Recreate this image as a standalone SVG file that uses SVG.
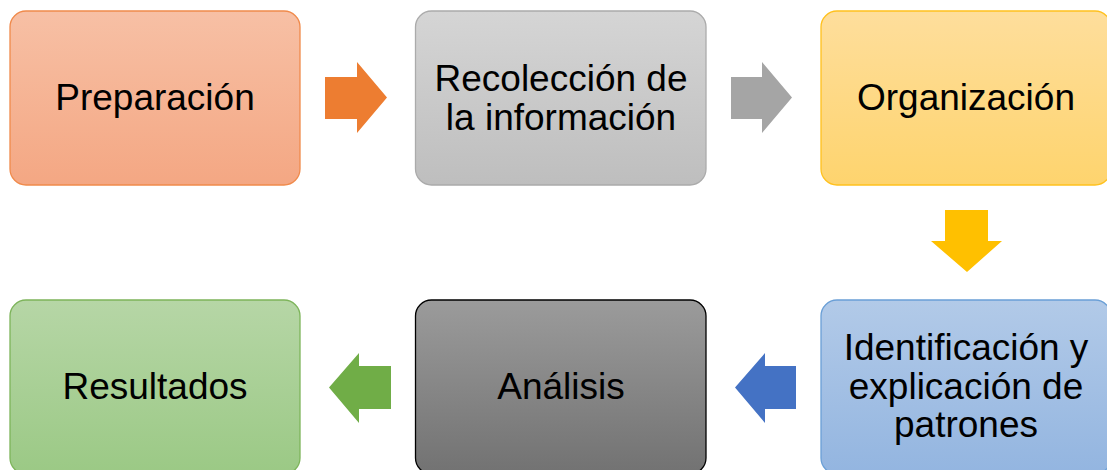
<svg xmlns="http://www.w3.org/2000/svg" width="1107" height="470" viewBox="0 0 1107 470">
<defs>
<linearGradient id="gO" x1="0" y1="0" x2="0" y2="1"><stop offset="0" stop-color="#F7C0A5"/><stop offset="1" stop-color="#F4A783"/></linearGradient>
<linearGradient id="gG" x1="0" y1="0" x2="0" y2="1"><stop offset="0" stop-color="#D5D5D5"/><stop offset="1" stop-color="#BEBEBE"/></linearGradient>
<linearGradient id="gY" x1="0" y1="0" x2="0" y2="1"><stop offset="0" stop-color="#FEDE9C"/><stop offset="1" stop-color="#FED46E"/></linearGradient>
<linearGradient id="gB" x1="0" y1="0" x2="0" y2="1"><stop offset="0" stop-color="#B2CAE8"/><stop offset="1" stop-color="#93B5E0"/></linearGradient>
<linearGradient id="gD" x1="0" y1="0" x2="0" y2="1"><stop offset="0" stop-color="#9B9B9B"/><stop offset="1" stop-color="#727272"/></linearGradient>
<linearGradient id="gN" x1="0" y1="0" x2="0" y2="1"><stop offset="0" stop-color="#B6D6A6"/><stop offset="1" stop-color="#9BC985"/></linearGradient>
</defs>
<style>
.box{stroke-width:1.3}
.t{font-family:"Liberation Sans",Arial,sans-serif;font-size:37px;fill:#000;text-anchor:middle}
</style>
<g id="connectors">
<polygon points="325,77 357,77 357,62 387,97.5 357,133 357,119 325,119" fill="#ED7D31"/>
<polygon points="731,77 762,77 762,62 792,97.5 762,133 762,119 731,119" fill="#A5A5A5"/>
<polygon points="945,210 988,210 988,241 1002,241 967,272 931,241 945,241" fill="#FFC000"/>
<polygon points="796,366 765,366 765,353 735,387.5 765,423 765,409 796,409" fill="#4472C4"/>
<polygon points="391,366 359,366 359,353 329,387.5 359,423 359,409 391,409" fill="#70AD47"/>
</g>
<g id="n1"><rect class="box" x="10" y="11" width="290" height="174" rx="16" fill="url(#gO)" stroke="#F08A4B"/><text class="t" x="155" y="110">Preparación</text></g>
<g id="n2"><rect class="box" x="415.5" y="11" width="290.5" height="174" rx="16" fill="url(#gG)" stroke="#ABABAB"/><text class="t" x="561" y="91">Recolección de</text><text class="t" x="561" y="129.5">la información</text></g>
<g id="n3"><rect class="box" x="821" y="11" width="290" height="174" rx="16" fill="url(#gY)" stroke="#FFC11E"/><text class="t" x="966" y="110">Organización</text></g>
<g id="n4"><rect class="box" x="821" y="300" width="290" height="174" rx="16" fill="url(#gB)" stroke="#6A9FD6"/><text class="t" x="966" y="360">Identificación y</text><text class="t" x="966" y="398.5">explicación de</text><text class="t" x="966" y="437">patrones</text></g>
<g id="n5"><rect class="box" x="415.5" y="300" width="290.5" height="174" rx="16" fill="url(#gD)" stroke="#000"/><text class="t" x="561" y="399">Análisis</text></g>
<g id="n6"><rect class="box" x="10" y="300" width="290" height="174" rx="16" fill="url(#gN)" stroke="#7DB45A"/><text class="t" x="155" y="399">Resultados</text></g>
</svg>
